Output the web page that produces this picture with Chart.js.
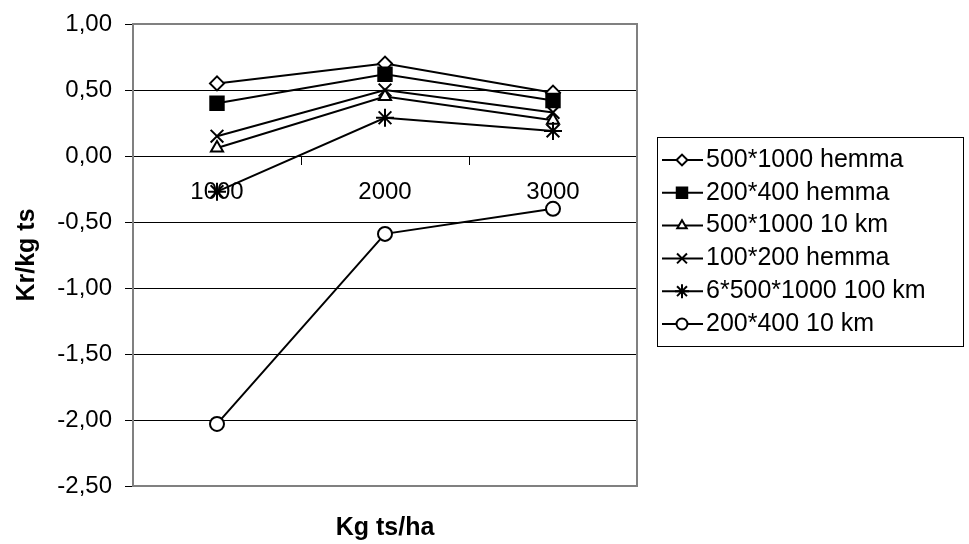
<!DOCTYPE html>
<html>
<head>
<meta charset="utf-8">
<script src="https://cdn.jsdelivr.net/npm/chart.js@4/dist/chart.umd.min.js"></script>
<style>
  html, body { margin: 0; padding: 0; background: #fff; }
  #wrap { width: 969px; height: 544px; }
</style>
</head>
<body>
<div id="wrap"><canvas id="c" width="969" height="544"></canvas></div>
<script>
// Categories on the x axis (Kg ts/ha)
const categories = ['1000', '2000', '3000'];

// Series names, in legend order
const seriesNames = [
  '500*1000 hemma',
  '200*400 hemma',
  '500*1000 10 km',
  '100*200 hemma',
  '6*500*1000 100 km',
  '200*400 10 km'
];

// Values, Kr/kg ts
const hemma500x1000    = [0.55, 0.70, 0.48];
const hemma200x400     = [0.40, 0.62, 0.42];
const km10_500x1000    = [0.06, 0.45, 0.27];
const hemma100x200     = [0.15, 0.50, 0.33];
const km100_6x500x1000 = [-0.27, 0.29, 0.19];
const km10_200x400     = [-2.03, -0.59, -0.40];

// Y axis tick values
const yTickValues = [-2.5, -2.0, -1.5, -1.0, -0.5, 0.0, 0.5, 1.0];

const FONT = '"Liberation Sans", Arial, sans-serif';
const TXT = 24;
const LEGEND_TXT = 25;

// marker look per series
const markers = [
  { pointStyle: 'rectRot',  radius: 7,   fill: '#fff' },
  { pointStyle: 'rect',     radius: 9.5, fill: '#000' },
  { pointStyle: 'triangle', radius: 7,   fill: '#fff' },
  { pointStyle: 'crossRot', radius: 9,   fill: '#fff' },
  { pointStyle: 'star',     radius: 9,   fill: '#fff' },
  { pointStyle: 'circle',   radius: 7,   fill: '#fff' }
];
const seriesValues = [hemma500x1000, hemma200x400, km10_500x1000, hemma100x200, km100_6x500x1000, km10_200x400];

const datasets = seriesValues.map((vals, i) => ({
  label: seriesNames[i],
  data: vals,
  borderColor: '#000',
  borderWidth: 2,
  pointStyle: markers[i].pointStyle,
  pointRadius: markers[i].radius,
  pointBackgroundColor: markers[i].fill,
  pointBorderColor: '#000',
  pointBorderWidth: 2,
  tension: 0,
  fill: false,
  order: 6 - i
}));

// Gray frame around the plot area
const plotFrame = {
  id: 'plotFrame',
  beforeDatasetsDraw(chart) {
    const { ctx, chartArea: a } = chart;
    ctx.save();
    ctx.strokeStyle = '#808080';
    ctx.lineWidth = 2;
    ctx.strokeRect(a.left, a.top, a.right - a.left, a.bottom - a.top);
    ctx.restore();
  }
};

// Boxed legend with line-and-marker samples
const boxedLegend = {
  id: 'boxedLegend',
  afterDraw(chart) {
    const ctx = chart.ctx;
    const L = 657, T = 137, W = 306, H = 209, ROW = 32.8;
    ctx.save();
    ctx.strokeStyle = '#000';
    ctx.lineWidth = 1;
    ctx.strokeRect(L + 0.5, T + 0.5, W, H);
    chart.data.datasets.forEach((ds, i) => {
      const y = T + 23 + i * ROW;
      ctx.strokeStyle = '#000';
      ctx.lineWidth = 2;
      ctx.beginPath();
      ctx.moveTo(L + 5, y);
      ctx.lineTo(L + 46, y);
      ctx.stroke();
      ctx.fillStyle = ds.pointBackgroundColor;
      ctx.lineWidth = 2;
      Chart.helpers.drawPoint(ctx, {
        pointStyle: ds.pointStyle,
        radius: ds.pointRadius * 0.78,
        borderWidth: 2,
        rotation: 0
      }, L + 25, y);
      ctx.fillStyle = '#000';
      ctx.font = LEGEND_TXT + 'px ' + FONT;
      ctx.textBaseline = 'middle';
      ctx.textAlign = 'left';
      ctx.fillText(ds.label, L + 49, y);
    });
    ctx.restore();
  }
};

new Chart(document.getElementById('c'), {
  type: 'line',
  data: { labels: categories, datasets },
  plugins: [plotFrame, boxedLegend],
  options: {
    responsive: false,
    animation: false,
    devicePixelRatio: 1,
    layout: { padding: { left: 12, top: 24, right: 332, bottom: 0 } },
    plugins: {
      legend: { display: false },
      tooltip: { enabled: false },
      title: {
        display: true,
        position: 'bottom',
        fullSize: false,
        text: 'Kg ts/ha',
        color: '#000',
        font: { family: FONT, size: 25, weight: 'bold' },
        padding: { top: 27, bottom: 1 }
      }
    },
    scales: {
      x: {
        type: 'category',
        axis: 'x',
        position: { y: 0 },
        offset: true,
        grid: { offset: true, drawOnChartArea: false, drawTicks: true, tickLength: 8, color: '#000', lineWidth: 1 },
        border: { display: true, color: '#000', width: 1 },
        ticks: { color: '#000', font: { family: FONT, size: TXT }, padding: 14, maxRotation: 0, autoSkip: false }
      },
      y: {
        position: 'left',
        min: -2.5,
        max: 1.0,
        afterBuildTicks(scale) { scale.ticks = yTickValues.map(v => ({ value: v })); },
        afterFit(scale) {
          scale.width = 121;
          scale.paddingTop = 0;
          scale.paddingBottom = 0;
        },
        grid: { color: '#000', lineWidth: 1, drawTicks: true, tickLength: 8 },
        border: { display: true, color: '#808080', width: 2 },
        ticks: {
          color: '#000',
          font: { family: FONT, size: TXT },
          padding: 13,
          callback: v => v.toFixed(2).replace('.', ',')
        },
        title: {
          display: true,
          text: 'Kr/kg ts',
          color: '#000',
          font: { family: FONT, size: 25, weight: 'bold' },
          padding: { top: 0, bottom: 0 }
        }
      }
    }
  }
});
</script>
</body>
</html>
